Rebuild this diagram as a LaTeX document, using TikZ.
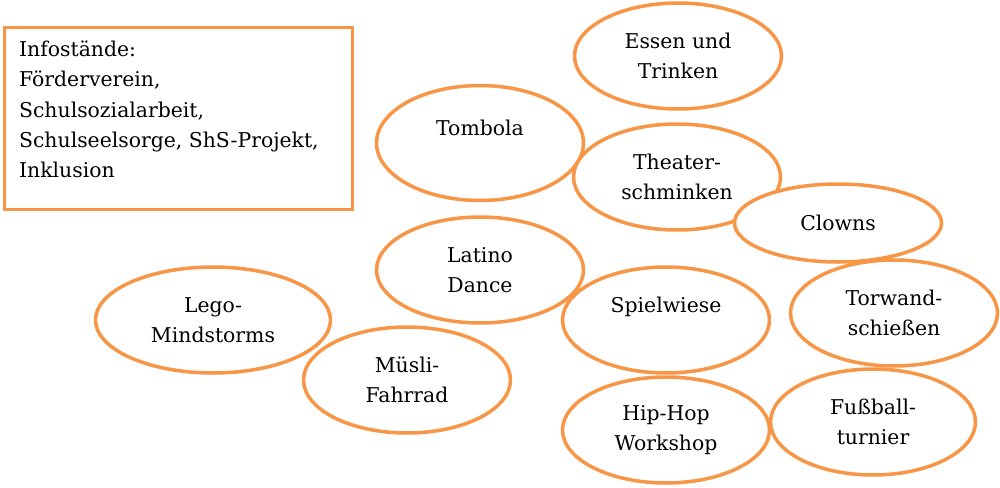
\documentclass[tikz,border=0pt]{standalone}
\usepackage{fontspec}
\setmainfont{DejaVu Serif}
\usepackage{xcolor}
\usepackage{tikz}
\usetikzlibrary{shapes.geometric}
\usetikzlibrary{positioning}

\definecolor{accentorange}{HTML}{F79646}

\begin{document}
\begin{tikzpicture}[x=0.02cm, y=-0.02cm,
  bubble/.style={ellipse, draw=accentorange, line width=2pt, fill=white,
    minimum width=4.14cm, minimum height=2.12cm, inner sep=0pt, align=center,
    font=\fontsize{11.6}{17.1}\selectfont},
  infobox/.style={rectangle, draw=accentorange, line width=2pt,
    minimum width=6.96cm, minimum height=3.64cm, inner sep=0pt}]
\useasboundingbox (0,0) rectangle (1000,487);
\node[infobox] (info) at (178.5,118.5) {};
\node[anchor=north west, inner sep=0pt, align=left, font=\fontsize{11.6}{17.3}\selectfont]
  (infotext) at ([shift={(0.32cm,-0.29cm)}]info.north west)
  {Infostände:\\Förderverein,\\Schulsozialarbeit,\\Schulseelsorge, ShS-Projekt,\\Inklusion};
\node[bubble] (essen) at (678,56) {Essen und\\Trinken};
\node[bubble, minimum height=2.3cm] (tombola) at (480,143) {Tombola\\\mbox{}};
\node[bubble] (theater) at (677,177) {Theater-\\schminken};
\node[bubble, minimum height=1.56cm] (clowns) at (838,223) {Clowns};
\node[bubble] (latino) at (480,270) {Latino\\Dance};
\node[bubble, minimum width=4.7cm] (lego) at (213,320) {Lego-\\Mindstorms};
\node[bubble] (muesli) at (407,380) {Müsli-\\Fahrrad};
\node[bubble] (spielwiese) at (666,320) {Spielwiese\\\mbox{}};
\node[bubble] (torwand) at (894,313) {Torwand-\\schießen};
\node[bubble] (hiphop) at (666,430) {Hip-Hop\\Workshop};
\node[bubble, minimum width=4.1cm] (fussball) at (873,422) {Fußball-\\turnier};
\end{tikzpicture}
\end{document}
